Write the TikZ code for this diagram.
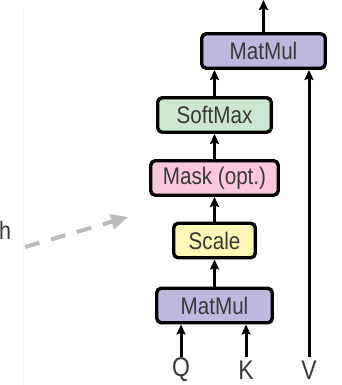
\documentclass[tikz,border=0pt]{standalone}
\usepackage{fontspec}
\newfontfamily\boxfont[FakeStretch=0.86]{Liberation Sans}
\newfontfamily\lblfont[FakeStretch=0.85]{Liberation Sans}
\usetikzlibrary{arrows.meta}
\definecolor{matmulc}{HTML}{BFB7DE}
\definecolor{softc}{HTML}{C9E8CF}
\definecolor{maskc}{HTML}{F9C8DC}
\definecolor{scalec}{HTML}{FDF8B4}
\definecolor{inkc}{HTML}{383838}
\definecolor{dashc}{HTML}{BBBBBB}
\tikzset{
  opbox/.style={draw=black, line width=3.4pt, rounded corners=4.5pt,
    minimum height=34.5pt, inner sep=0pt, text=inkc,
    font=\boxfont\fontsize{24}{24}\selectfont},
  flow/.style={draw=black, line width=3pt, -{Stealth[length=10pt,width=9pt,inset=1.5pt]}},
  inlabel/.style={text=inkc, inner sep=0pt, font=\lblfont\fontsize{27}{27}\selectfont},
  hint/.style={draw=dashc, line width=4pt, dash pattern=on 15pt off 12pt,
    -{Triangle[length=17pt,width=15pt]}}
}
\begin{document}
\begin{tikzpicture}[x=1pt, y=-1pt]
\useasboundingbox (0,0) rectangle (341,385);
\fill[white] (0,0) rectangle (341,385);
% faint page divider on the left
\draw[draw=black!5, line width=0.8pt] (23,8) -- (23,385);

% operation boxes
\node[opbox, fill=matmulc, minimum width=123.5pt] (mmtop) at (263.5,51) {MatMul};
\node[opbox, fill=softc,   minimum width=113.5pt] (soft)  at (214.5,115) {SoftMax};
\node[opbox, fill=maskc,   minimum width=127.5pt] (mask)  at (214.5,178) {Mask (opt.)};
\node[opbox, fill=scalec,  minimum width=81.5pt]  (scale) at (214.5,240.5) {Scale};
\node[opbox, fill=matmulc, minimum width=115.5pt] (mmbot) at (214.5,305.5) {MatMul};

% inputs
\node[inlabel] (q) at (181,370) {Q};
\node[inlabel] (k) at (246,370) {K};
\node[inlabel] (v) at (309,370) {V};
\coordinate (qs) at (181,357);
\coordinate (ks) at (246,357);
\coordinate (vs) at (309,357);
\coordinate (out) at (263.5,0);

% data flow
\draw[flow] (qs) -- (qs |- mmbot.south);
\draw[flow] (ks) -- (ks |- mmbot.south);
\draw[flow] (vs) -- (vs |- mmtop.south);
\draw[flow] (mmbot.north) -- (scale.south);
\draw[flow] (scale.north) -- (mask.south);
\draw[flow] (mask.north) -- (soft.south);
\draw[flow] (soft.north) -- (soft.north |- mmtop.south);
\draw[flow] (mmtop.north) -- (out);

% caption fragment and dashed pointer
\node[text=inkc, inner sep=0pt, anchor=west, font=\boxfont\fontsize{25}{25}\selectfont] (cap) at (-1,230) {h};
\coordinate (hs) at (25,247);
\coordinate (he) at (128,217);
\draw[hint] (hs) -- (he);
\end{tikzpicture}
\end{document}
